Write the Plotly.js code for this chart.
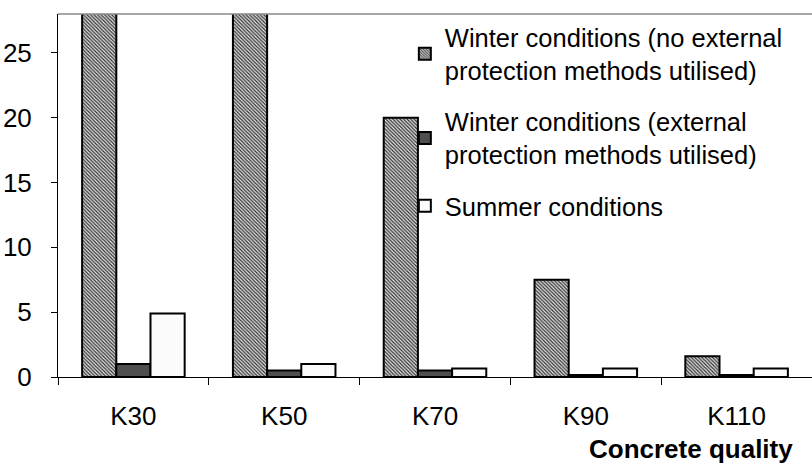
<!DOCTYPE html>
<html>
<head>
<meta charset="utf-8">
<script src="https://cdn.plot.ly/plotly-3.0.1.min.js"></script>
<style>
html,body{margin:0;padding:0;background:#fff;}
#chart{width:812px;height:464px;}
</style>
</head>
<body>
<div id="chart"></div>
<script>
const categories = ["K30", "K50", "K70", "K90", "K110"];
const winterNoProtection = [30, 30, 20, 7.5, 1.6];
const winterProtection = [1.0, 0.5, 0.5, 0.15, 0.15];
const summer = [4.9, 1.0, 0.65, 0.65, 0.65];
const seriesNames = [
  "Winter conditions (no external<br>protection methods utilised)",
  "Winter conditions (external<br>protection methods utilised)",
  "Summer conditions"
];
const yTicks = [0, 5, 10, 15, 20, 25];

const FONT = "Liberation Sans, Arial, sans-serif";

const traces = [
  {
    type: "bar", x: categories, y: winterNoProtection, name: seriesNames[0],
    legendgroup: "a",
    marker: {
      color: "#d8d8d8",
      line: {color: "#000", width: 2},
      pattern: {shape: "\\", size: 2.5, solidity: 0.5, fgcolor: "#333", bgcolor: "#e6e6e6"}
    }
  },
  {
    type: "bar", x: categories, y: winterProtection, name: seriesNames[1],
    legendgroup: "b",
    marker: {color: "#4f4f4f", line: {color: "#000", width: 2}}
  },
  {
    type: "bar", x: categories, y: summer, name: seriesNames[2],
    legendgroup: "c",
    marker: {color: "#fbfbfb", line: {color: "#000", width: 2}}
  }
];

const layout = {
  width: 812, height: 464,
  margin: {l: 58, r: 0, t: 14, b: 87, pad: 0},
  paper_bgcolor: "#fff", plot_bgcolor: "#fff",
  font: {family: FONT, size: 26, color: "#000"},
  barmode: "group",
  bargap: 0.32,
  bargroupgap: 0,
  showlegend: true,
  legend: {
    x: 0.46, xanchor: "left", y: 1.0, yanchor: "top",
    bgcolor: "rgba(0,0,0,0)", borderwidth: 0,
    font: {family: FONT, size: 25.5, color: "#000"},
    tracegroupgap: 15, itemwidth: 30, valign: "middle"
  },
  xaxis: {
    type: "category",
    tickson: "boundaries",
    ticks: "outside", ticklen: 7, tickwidth: 1, tickcolor: "#000",
    showline: true, linecolor: "#000", linewidth: 1,
    showgrid: false, zeroline: false,
    tickfont: {family: FONT, size: 26, color: "#000"},
    ticklabelstandoff: 16
  },
  yaxis: {
    range: [0, 28],
    tickvals: yTicks, ticktext: yTicks.map(String),
    ticks: "outside", ticklen: 6, tickwidth: 1, tickcolor: "#000",
    showline: true, linecolor: "#000", linewidth: 1,
    showgrid: false, zeroline: false,
    tickfont: {family: FONT, size: 26, color: "#000"},
    ticklabelstandoff: 14
  },
  shapes: [
    {type: "line", xref: "paper", yref: "paper", x0: 0, x1: 1, y0: 1, y1: 1,
     line: {color: "#888", width: 1.5}}
  ],
  annotations: [
    {text: "<b>Concrete quality</b>", xref: "paper", yref: "paper",
     x: 0.977, y: -0.199, xanchor: "right", yanchor: "middle",
     showarrow: false, font: {family: FONT, size: 26, color: "#000"}}
  ]
};

Plotly.newPlot("chart", traces, layout, {displayModeBar: false, staticPlot: true});
</script>
</body>
</html>
